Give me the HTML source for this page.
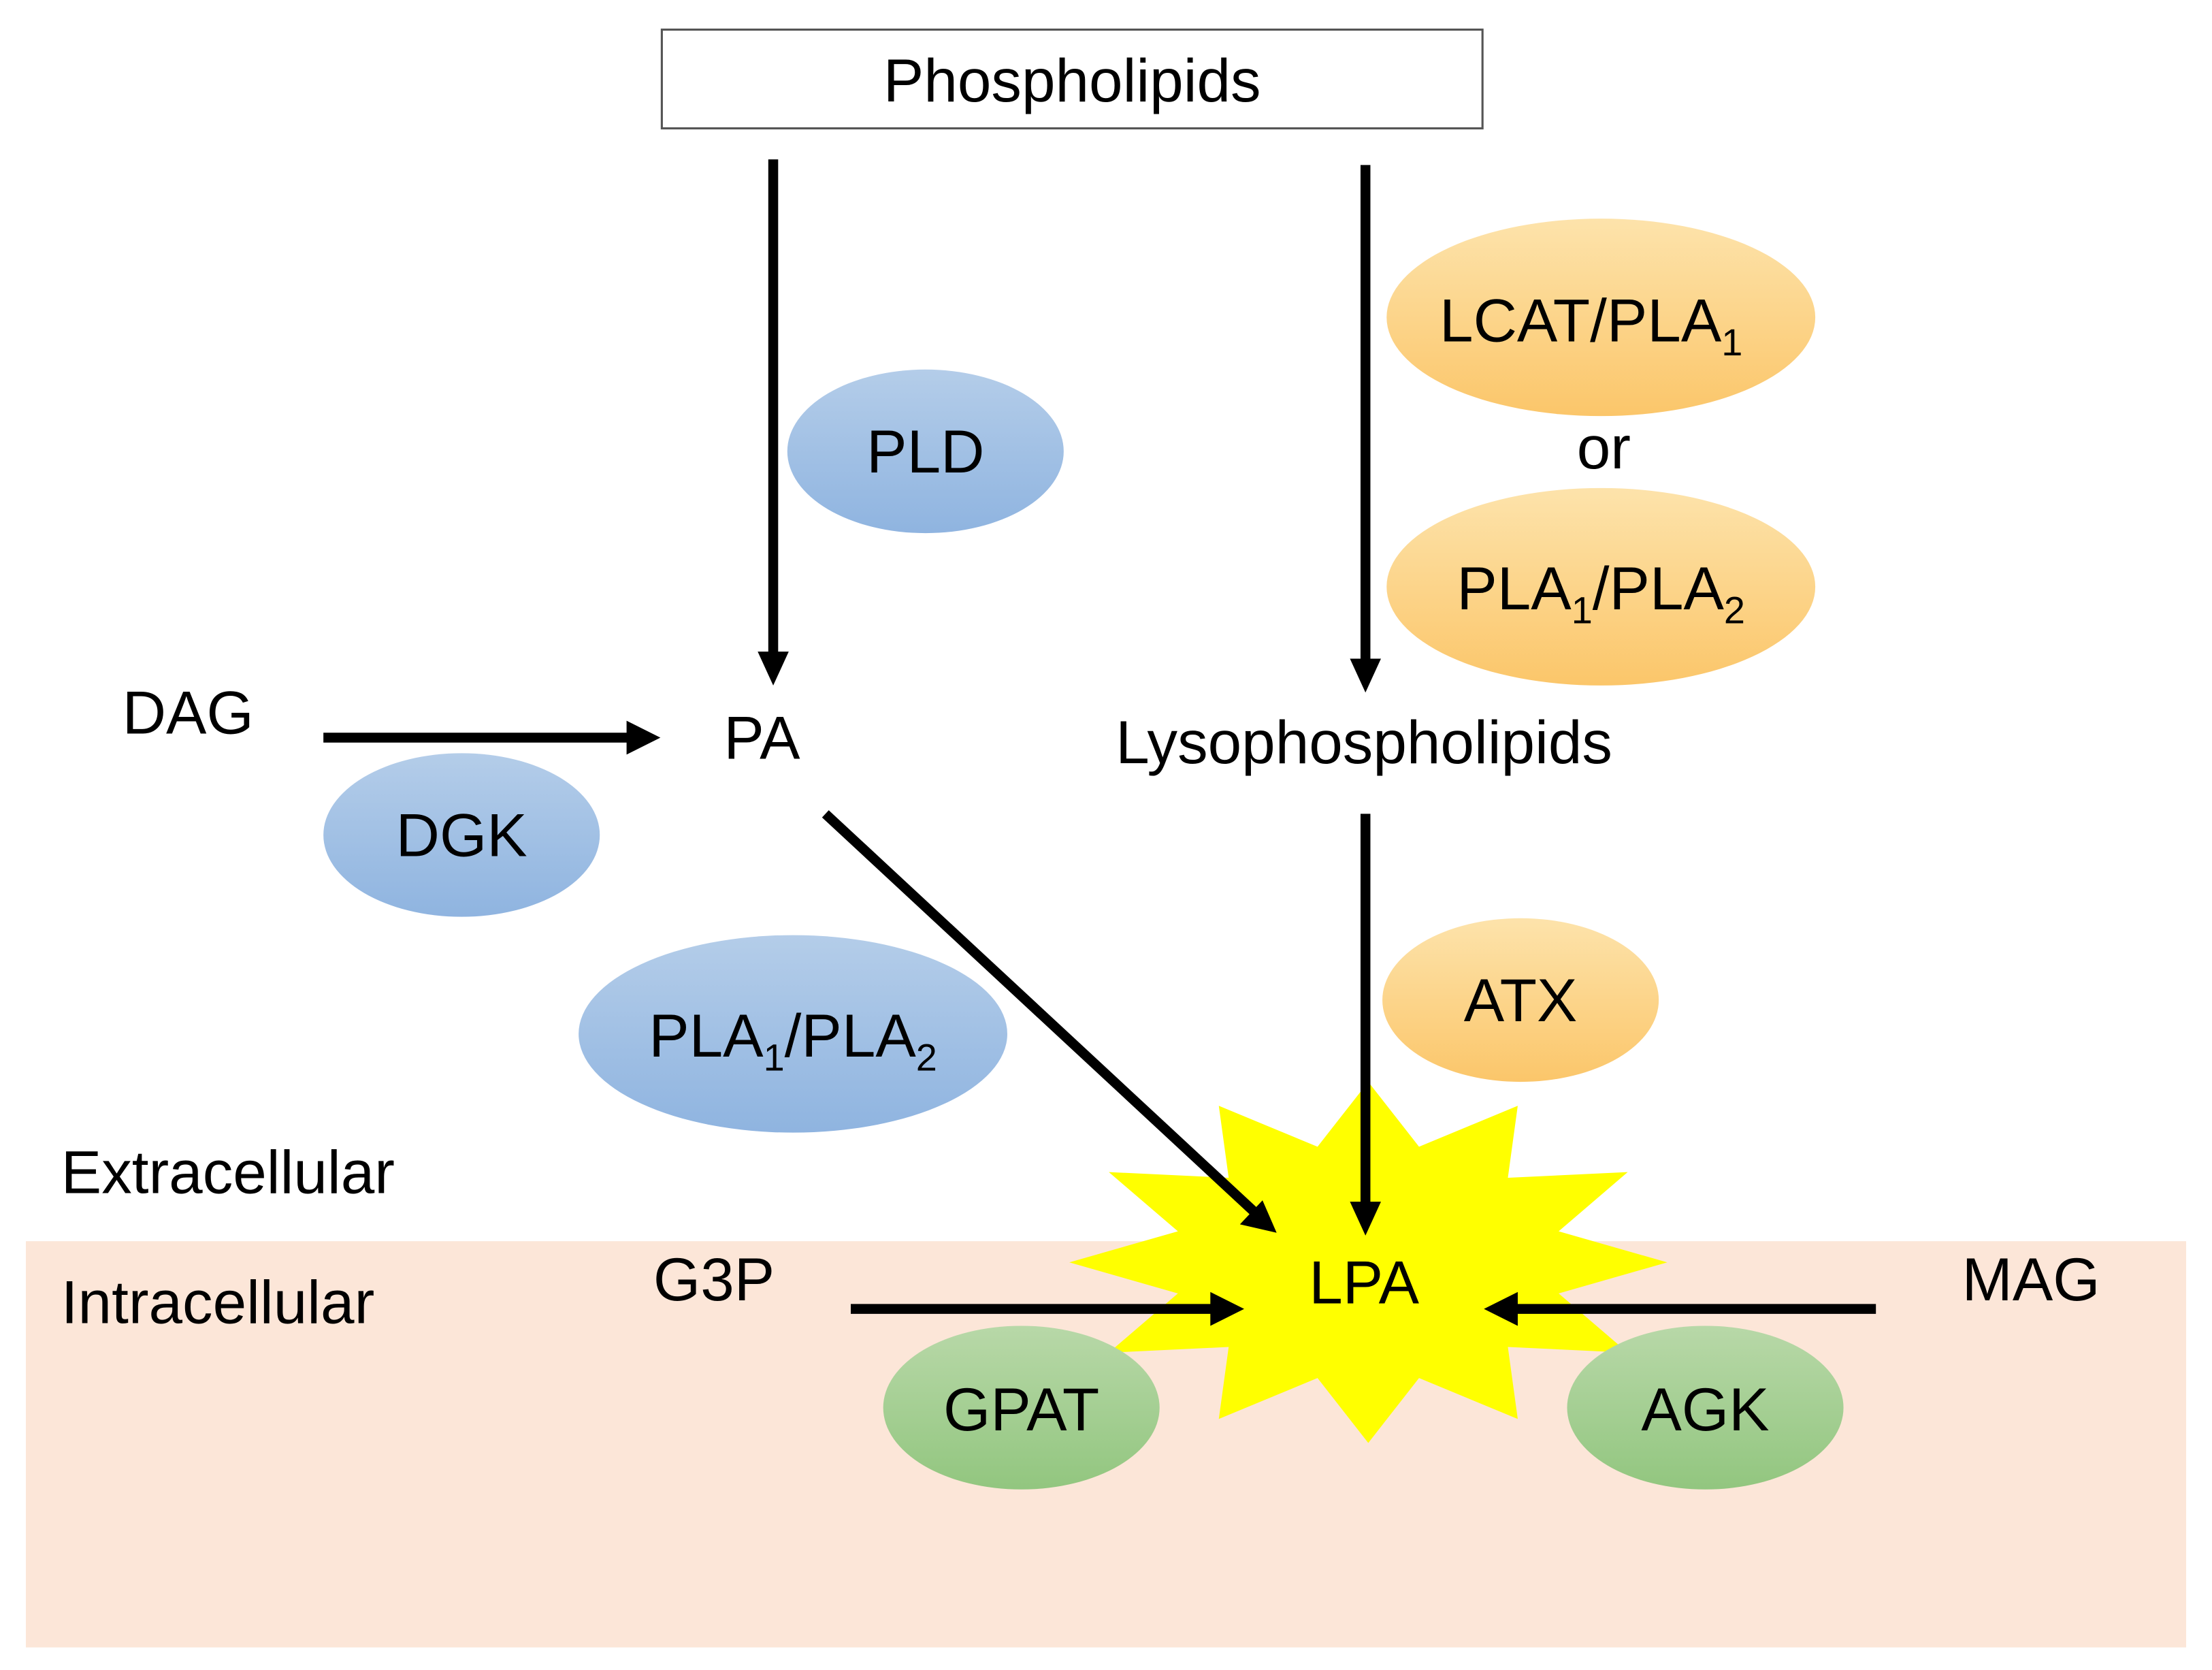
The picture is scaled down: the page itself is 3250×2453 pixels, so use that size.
<!DOCTYPE html>
<html><head><meta charset="utf-8"><style>html,body{margin:0;padding:0;background:#fff}svg{display:block}</style></head>
<body>
<svg width="3250" height="2453" viewBox="0 0 1568 1184" xmlns="http://www.w3.org/2000/svg" font-family="Liberation Sans, Arial, sans-serif" font-size="43" fill="#000">
<defs>
<linearGradient id="b" x1="0" y1="0" x2="0" y2="1"><stop offset="0" stop-color="#b4cde9"/><stop offset="1" stop-color="#8fb4e0"/></linearGradient>
<linearGradient id="o" x1="0" y1="0" x2="0" y2="1"><stop offset="0" stop-color="#fde3ab"/><stop offset="1" stop-color="#fbc66a"/></linearGradient>
<linearGradient id="g" x1="0" y1="0" x2="0" y2="1"><stop offset="0" stop-color="#b8d8a8"/><stop offset="1" stop-color="#92c67f"/></linearGradient>
</defs>
<rect x="18" y="880" width="1532" height="288" fill="#fce6d8"/>
<rect x="469" y="21" width="582" height="70" fill="#fff" stroke="#555" stroke-width="1.5"/>
<text x="760" y="72" text-anchor="middle">Phospholipids</text>

<ellipse cx="656" cy="320" rx="98" ry="58" fill="url(#b)"/>
<text x="656" y="335" text-anchor="middle">PLD</text>
<ellipse cx="1135" cy="225" rx="152" ry="70" fill="url(#o)"/>
<text x="1128" y="242" text-anchor="middle">LCAT/PLA<tspan font-size="27" dy="10">1</tspan></text>
<text x="1137" y="332" text-anchor="middle">or</text>
<ellipse cx="1135" cy="416" rx="152" ry="70" fill="url(#o)"/>
<text x="1135" y="432" text-anchor="middle">PLA<tspan font-size="27" dy="10">1</tspan><tspan dy="-10">/PLA</tspan><tspan font-size="27" dy="10">2</tspan></text>

<line x1="548" y1="113" x2="548" y2="470" stroke="#000" stroke-width="7"/>
<path d="M537,462 L559,462 L548,486 z"/>
<line x1="968" y1="117" x2="968" y2="475" stroke="#000" stroke-width="7"/>
<path d="M957,467 L979,467 L968,491 z"/>

<text x="133" y="520" text-anchor="middle">DAG</text>
<line x1="229" y1="523" x2="450" y2="523" stroke="#000" stroke-width="7"/>
<path d="M444,511 L468,523 L444,535 z"/>
<text x="540" y="538" text-anchor="middle">PA</text>
<ellipse cx="327" cy="592" rx="98" ry="58" fill="url(#b)"/>
<text x="327" y="607" text-anchor="middle">DGK</text>
<text x="967" y="541" text-anchor="middle">Lysophospholipids</text>

<ellipse cx="562" cy="733" rx="152" ry="70" fill="url(#b)"/>
<text x="562" y="749" text-anchor="middle">PLA<tspan font-size="27" dy="10">1</tspan><tspan dy="-10">/PLA</tspan><tspan font-size="27" dy="10">2</tspan></text>
<ellipse cx="1078" cy="709" rx="98" ry="58" fill="url(#o)"/>
<text x="1078" y="724" text-anchor="middle">ATX</text>

<text x="43" y="846">Extracellular</text>
<text x="43" y="938">Intracellular</text>

<polygon fill="#ffff00" points="970,767 1006,813 1076,784 1069,835 1154,831 1105,873 1182,895 1105,917 1154,959 1069,955 1076,1006 1006,977 970,1023 934,977 864,1006 871,955 786,959 835,917 758,895 835,873 786,831 871,835 864,784 934,813"/>

<line x1="968" y1="577" x2="968" y2="858" stroke="#000" stroke-width="7"/>
<path d="M957,852 L979,852 L968,876 z"/>
<line x1="585" y1="577" x2="890" y2="860" stroke="#000" stroke-width="7"/>
<path d="M879,868 L895,851 L905,874 z"/>

<text x="967" y="924" text-anchor="middle">LPA</text>
<text x="506" y="922" text-anchor="middle">G3P</text>
<line x1="603" y1="928" x2="862" y2="928" stroke="#000" stroke-width="7"/>
<path d="M858,916 L882,928 L858,940 z"/>
<text x="1440" y="922" text-anchor="middle">MAG</text>
<line x1="1330" y1="928" x2="1070" y2="928" stroke="#000" stroke-width="7"/>
<path d="M1076,916 L1052,928 L1076,940 z"/>

<ellipse cx="724" cy="998" rx="98" ry="58" fill="url(#g)"/>
<text x="724" y="1014" text-anchor="middle">GPAT</text>
<ellipse cx="1209" cy="998" rx="98" ry="58" fill="url(#g)"/>
<text x="1209" y="1014" text-anchor="middle">AGK</text>
</svg>
</body></html>
